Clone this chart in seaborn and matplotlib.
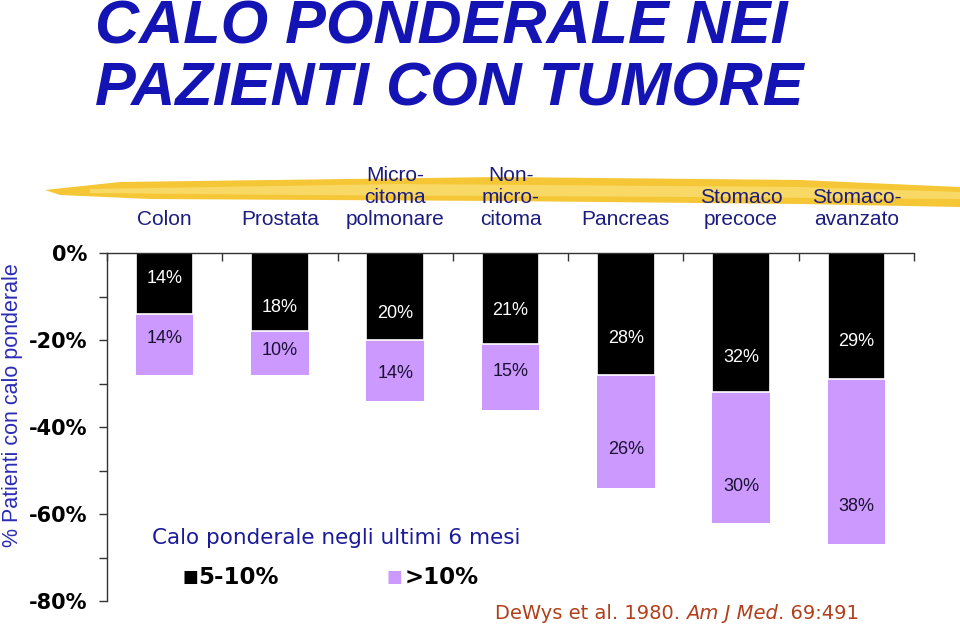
import matplotlib
matplotlib.use("Agg")
import matplotlib.pyplot as plt
from matplotlib.patches import Polygon
import numpy as np
import pandas as pd
import seaborn as sns

# data
tumori = ["Colon", "Prostata", "Micro-\ncitoma\npolmonare", "Non-\nmicro-\ncitoma",
          "Pancreas", "Stomaco\nprecoce", "Stomaco-\navanzato"]
calo_5_10 = [14, 18, 20, 21, 28, 32, 29]
calo_oltre_10 = [14, 10, 14, 15, 26, 30, 38]

# where the % labels sit inside each segment (fraction of segment height)
pos_nero = [0.42, 0.70, 0.70, 0.63, 0.70, 0.75, 0.70]
pos_viola = [0.41, 0.43, 0.55, 0.41, 0.66, 0.72, 0.77]

nero = "black"
viola = "#cc99ff"
blu = "#1414b4"

sns.set_theme(style="white")
plt.rcParams["font.family"] = ["Liberation Sans", "DejaVu Sans"]

df = pd.DataFrame({
    "tumore": tumori,
    "nero": [-v for v in calo_5_10],
    "totale": [-(a + b) for a, b in zip(calo_5_10, calo_oltre_10)],
})

fig = plt.figure(figsize=(9.6, 6.28), dpi=100)
ax = fig.add_axes([107 / 960, 1 - 601 / 628, 807 / 960, 348 / 628])

# yellow brush stroke behind the category names (decoration)
pennello = [(45, 190), (120, 182), (500, 177), (800, 180), (960, 187),
            (960, 207), (800, 204), (500, 201), (150, 199), (60, 195)]
fig.patches.append(Polygon([(x / 960, 1 - y / 628) for x, y in pennello],
                           closed=True, transform=fig.transFigure,
                           facecolor="#f4c020", edgecolor="none", alpha=0.9, zorder=-2))
pennello2 = [(90, 189), (400, 184), (800, 187), (960, 192), (960, 199), (700, 197), (300, 195), (90, 193)]
fig.patches.append(Polygon([(x / 960, 1 - y / 628) for x, y in pennello2],
                           closed=True, transform=fig.transFigure,
                           facecolor="#fbe27a", edgecolor="none", alpha=0.7, zorder=-1))
ax.patch.set_alpha(0)

# stacked bars hanging down from 0
sns.barplot(data=df, x="tumore", y="totale", order=tumori, color=viola,
            width=0.5, edgecolor="white", linewidth=0, saturation=1, ax=ax)
sns.barplot(data=df, x="tumore", y="nero", order=tumori, color=nero,
            width=0.5, edgecolor="white", linewidth=1.2, saturation=1, ax=ax)

for i, (a, b) in enumerate(zip(calo_5_10, calo_oltre_10)):
    ax.text(i, -a * pos_nero[i], f"{a}%", ha="center", va="center",
            color="white", fontsize=13)
    ax.text(i, -a - b * pos_viola[i], f"{b}%", ha="center", va="center",
            color="#1a1030", fontsize=13)

ax.set_xlim(-0.5, len(tumori) - 0.5)
ax.set_ylim(-80, 0)
ax.set_yticks(np.arange(-80, 1, 20))
ax.set_yticklabels([f"{v}%" for v in range(-80, 1, 20)], fontweight="bold",
                   family="DejaVu Sans", fontsize=15, color="black")
ax.set_yticks(np.arange(-70, 0, 20), minor=True)

ax.xaxis.tick_top()
ax.set_xticks(range(len(tumori)))
ax.set_xticklabels(tumori, fontsize=15, color="#1c1c80",
                   family=["Liberation Sans Narrow", "Liberation Sans"])
for lab in ax.get_xticklabels():
    lab.set_linespacing(1.2)
    lab.set_va("bottom")
ax.set_xticks(np.arange(-0.5, len(tumori)), minor=True)
ax.tick_params(axis="x", which="major", length=0, pad=17, top=True, bottom=False)
ax.tick_params(axis="x", which="minor", direction="in", length=6, width=1,
               color="#333333", top=True, bottom=False)
ax.tick_params(axis="y", which="both", direction="out", length=6, width=1,
               color="#333333", left=True, pad=8)
ax.set_xlabel("")

for s in ["right", "bottom"]:
    ax.spines[s].set_visible(False)
for s in ["left", "top"]:
    ax.spines[s].set_color("#333333")
    ax.spines[s].set_linewidth(1)

ax.set_ylabel("% Patienti con calo ponderale", fontsize=15.5, color="#2b2bb5")
ax.yaxis.label.set_va("center")
ax.yaxis.set_label_coords(-0.117, 0.563)

# title
fig.text(95 / 960, 1 - 59 / 628, "CALO PONDERALE NEI\nPAZIENTI CON TUMORE",
         ha="left", va="center", fontsize=44, fontweight="bold", style="italic",
         color=blu, linespacing=1.12)

# legend in text form
fig.text(152 / 960, 1 - 538 / 628, "Calo ponderale negli ultimi 6 mesi",
         ha="left", va="center", fontsize=15.5, color="#1a1a9a", family="DejaVu Sans")
fig.text(182 / 960, 1 - 577 / 628, "\u25A0", ha="left", va="center", fontsize=12,
         color=nero, family="DejaVu Sans")
fig.text(198 / 960, 1 - 577 / 628, "5-10%", ha="left", va="center", fontsize=16.5,
         fontweight="bold", color="black", family="DejaVu Sans")
fig.text(387 / 960, 1 - 577 / 628, "\u25A0", ha="left", va="center", fontsize=12,
         color=viola, family="DejaVu Sans")
fig.text(405 / 960, 1 - 577 / 628, ">10%", ha="left", va="center", fontsize=16.5,
         fontweight="bold", color="black", family="DejaVu Sans")

# citation with italic journal name
rosso = "#b0401c"
t1 = fig.text(495 / 960, 1 - 619 / 628, "DeWys et al. 1980. ", ha="left", va="baseline",
              fontsize=14, color=rosso, family="DejaVu Sans")
t2 = ax.annotate("Am J Med", xy=(1, 0), xycoords=t1, ha="left", va="bottom",
                 fontsize=14, color=rosso, style="italic", family="DejaVu Sans",
                 annotation_clip=False)
t3 = ax.annotate(". 69:491", xy=(1, 0), xycoords=t2, ha="left", va="bottom",
                 fontsize=14, color=rosso, family="DejaVu Sans", annotation_clip=False)

fig.savefig("out.png", dpi=100)
